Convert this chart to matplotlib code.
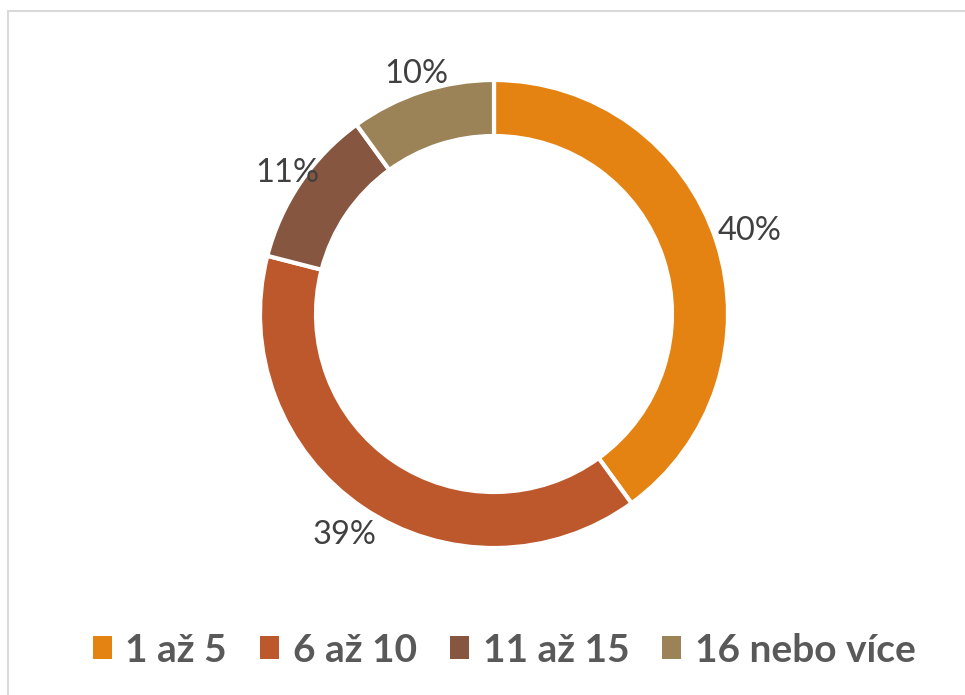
import matplotlib
matplotlib.use("Agg")
import matplotlib.pyplot as plt
import numpy as np
from matplotlib.patches import Rectangle

categories = ["1 až 5", "6 až 10", "11 až 15", "16 nebo více"]
values = [40, 39, 11, 10]
colors = ["#E48312", "#BD582C", "#865640", "#9B8357"]
label_dist = [1.15, 1.14, 1.07, 1.08]

W, H = 965, 695
fig = plt.figure(figsize=(W / 100, H / 100), dpi=100)
ax = fig.add_axes([0, 0, 1, 1])
ax.set_xlim(0, W)
ax.set_ylim(0, H)
ax.axis("off")

# chart frame (cropped at right and bottom)
ax.add_patch(Rectangle((8, -20), W + 20, H - 11 + 20, fill=False,
                       edgecolor="#D9D9D9", linewidth=1.5))

cx, cy, R = 494, H - 314, 234
wedges, _ = ax.pie(values, colors=colors, startangle=90, counterclock=False,
                   center=(cx, cy), radius=R,
                   wedgeprops=dict(width=56, edgecolor="white", linewidth=3))
total = sum(values)
for w, v, d in zip(wedges, values, label_dist):
    ang = np.deg2rad((w.theta1 + w.theta2) / 2)
    x = cx + R * d * np.cos(ang)
    y = cy + R * d * np.sin(ang)
    ax.text(x, y, f"{round(100 * v / total)}%", ha="center", va="center",
            fontsize=23.5, color="#404040", family=["Lato", "DejaVu Sans"])
ax.set_aspect("equal")
ax.set_xlim(0, W)
ax.set_ylim(0, H)

handles = [Rectangle((0, 0), 1, 1, facecolor=c, edgecolor="none") for c in colors]
leg = fig.legend(handles, categories, loc="center", bbox_to_anchor=(0.5225, 1 - 650 / H),
                 ncol=4, frameon=False, handlelength=0.49, handleheight=0.51,
                 handletextpad=0.35, columnspacing=0.85,
                 prop=dict(family=["Lato", "DejaVu Sans"], weight="bold", size=28))
for t in leg.get_texts():
    t.set_color("#595959")

fig.savefig("out.png", dpi=100, facecolor="white")
